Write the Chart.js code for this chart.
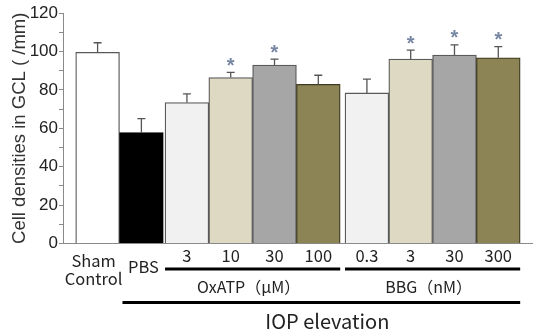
<!DOCTYPE html>
<html><head><meta charset="utf-8">
<script src="https://cdn.jsdelivr.net/npm/chart.js@4.4.0/dist/chart.umd.min.js"></script>
<style>html,body{margin:0;padding:0;background:#fff}#wrap{width:534px;height:336px;position:relative}</style>
</head><body><div id="wrap"><canvas id="c"></canvas></div>
<script>
// ---- data ----
const categories = ["Sham Control","PBS","OxATP 3","OxATP 10","OxATP 30","OxATP 100","BBG 0.3","BBG 3","BBG 30","BBG 300"];
const tickLabels = [["Sham","Control"],["PBS"],["3"],["10"],["30"],["100"],["0.3"],["3"],["30"],["300"]];
const groups = [0,0,1,1,1,1,2,2,2,2];
const values = [99.5,57.7,73.4,86.4,92.9,82.9,78.4,96.0,98.1,96.7];
const errors = [5.0,7.3,4.5,2.7,3.1,4.7,7.2,4.7,5.3,5.8];
const significant = [false,false,false,true,true,false,false,true,true,true];
const groupLabels = ["OxATP（μM）","BBG（nM）"];
const bracketLabel = "IOP elevation";
const yTitle = "Cell densities in GCL ( /mm)";
const yTicks = [0,20,40,60,80,100,120];

// ---- style ----
const barColors = ["#ffffff","#000000","#f1f1f1","#ddd9c3","#a6a6a6","#8c8454","#f1f1f1","#ddd9c3","#a6a6a6","#8c8454"];
const barBorders = ["#5a5a5a","#000000","#5a5a5a","#5a5a5a","#5a5a5a","#3f3b22","#5a5a5a","#5a5a5a","#5a5a5a","#3f3b22"];
const groupGap = [0, 0.04, 0.15];
const slots = categories.map((_, i) => i + groupGap[groups[i]]);

const annot = {
  id: 'annot',
  afterDatasetsDraw(chart) {
    const ctx = chart.ctx, y = chart.scales.y, meta = chart.getDatasetMeta(0);
    ctx.save();
    meta.data.forEach((bar, i) => {
      const yv = y.getPixelForValue(values[i]);
      const ye = y.getPixelForValue(values[i] + errors[i]);
      ctx.strokeStyle = '#555'; ctx.lineWidth = 1.3;
      ctx.beginPath();
      ctx.moveTo(bar.x, yv); ctx.lineTo(bar.x, ye);
      ctx.moveTo(bar.x - 4, ye); ctx.lineTo(bar.x + 4, ye);
      ctx.stroke();
      if (significant[i]) {
        ctx.fillStyle = '#7686a3';
        ctx.font = 'bold 20px "Liberation Sans"';
        ctx.textAlign = 'center'; ctx.textBaseline = 'middle';
        ctx.fillText('*', bar.x, ye - 6);
      }
    });
    ctx.restore();
  },
  afterDraw(chart) {
    const ctx = chart.ctx, meta = chart.getDatasetMeta(0);
    const b = chart.chartArea.bottom;
    const bars = meta.data;
    ctx.save();
    ctx.fillStyle = '#222';
    ctx.textAlign = 'center'; ctx.textBaseline = 'middle';
    ctx.font = '16.5px "Noto Sans CJK JP"';
    bars.forEach((bar, i) => {
      const lab = tickLabels[i];
      if (lab.length === 2) {
        ctx.fillText(lab[0], bar.x - 4, b + 17);
        ctx.fillText(lab[1], bar.x - 4, b + 35.5);
      } else if (groups[i] === 0) {
        ctx.fillText(lab[0], bar.x + 2, b + 23);
      } else {
        ctx.fillText(lab[0], bar.x, b + 12.5);
      }
    });
    // group lines
    ctx.strokeStyle = '#000'; ctx.lineWidth = 3;
    ctx.font = '16px "Noto Sans CJK JP"';
    [1, 2].forEach((g, k) => {
      const idx = groups.map((gg, i) => gg === g ? i : -1).filter(i => i >= 0);
      const f = bars[idx[0]], l = bars[idx[idx.length - 1]];
      const x0 = f.x - f.width / 2, x1 = l.x + l.width / 2;
      ctx.beginPath(); ctx.moveTo(x0, b + 25.5); ctx.lineTo(x1, b + 25.5); ctx.stroke();
      ctx.fillText(groupLabels[k], (x0 + x1) / 2 - 4, b + 43);
    });
    // IOP line
    const p = bars[1], last = bars[bars.length - 1];
    const x0 = p.x - p.width / 2 + 3, x1 = last.x + last.width / 2;
    ctx.beginPath(); ctx.moveTo(x0, b + 59); ctx.lineTo(x1, b + 59); ctx.stroke();
    ctx.font = '20px "Noto Sans CJK JP"';
    ctx.fillText(bracketLabel, (x0 + x1) / 2 + 6, b + 77.5);
    ctx.restore();
  }
};

new Chart(document.getElementById('c'), {
  type: 'bar',
  data: {
    datasets: [{
      data: values.map((v, i) => ({x: slots[i], y: v})),
      backgroundColor: barColors,
      borderColor: barBorders,
      borderWidth: 1.3,
      barPercentage: 1,
      categoryPercentage: 1
    }]
  },
  plugins: [annot],
  options: {
    responsive: true,
    maintainAspectRatio: false,
    animation: false,
    events: [],
    layout: {padding: {top: 13, right: 2, left: 0, bottom: 0}},
    plugins: {legend: {display: false}, tooltip: {enabled: false}},
    scales: {
      x: {
        type: 'linear',
        min: -0.79, max: 9.92,
        offset: false,
        grid: {display: true, drawOnChartArea: false, drawTicks: false},
        border: {display: true, color: '#8a8a8a', width: 1},
        ticks: {display: false},
        afterFit(s) { s.height = 92.5; }
      },
      y: {
        min: 0, max: 120,
        grid: {display: true, drawOnChartArea: false, drawTicks: true, tickLength: 4, color: '#8a8a8a'},
        border: {display: true, color: '#8a8a8a', width: 1},
        afterBuildTicks(s) {
          const t = [];
          for (let v = 0; v <= 120; v += 10) t.push({value: v});
          s.ticks = t;
        },
        ticks: {
          autoSkip: false,
          padding: 1,
          color: '#222',
          font: {family: '"Liberation Sans"', size: 17},
          callback: (v) => yTicks.includes(v) ? String(v) : ''
        },
        title: {
          display: true, text: yTitle, color: '#333',
          font: {family: '"Liberation Sans"', size: 18.5},
          padding: {top: 9, bottom: 0}
        },
        afterFit(s) { s.width = 63; }
      }
    }
  }
});
</script>
</body></html>
